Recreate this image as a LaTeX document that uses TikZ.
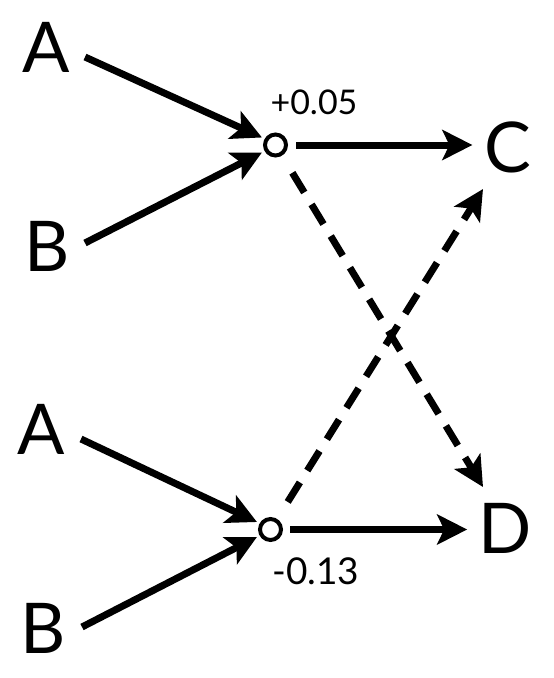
\documentclass[tikz,border=0pt]{standalone}
\usepackage{fontspec}
\setmainfont{Lato}
\usetikzlibrary{arrows.meta}

\begin{document}
\begin{tikzpicture}[x=1pt,y=-1pt,line join=miter,
    letter/.style={inner sep=0pt,font=\fontsize{70}{80}\selectfont},
    weight/.style={inner sep=0pt,font=\fontsize{#1}{40}\selectfont},
    junction/.style={circle,draw,line width=4pt,minimum size=21pt,inner sep=0pt,outer sep=5pt},
    arr/.style={line width=7pt,-{Stealth[length=30pt,width=30pt,inset=7pt]}},
    dasharr/.style={arr,dash pattern=on 23pt off 14pt,shorten <=17pt}]
  \useasboundingbox (0,0) rectangle (554,678);
  % upper unit
  \node[letter] (A1) at (46,47) {A};
  \node[letter] (B1) at (47,246) {B};
  \node[junction] (n1) at (275.5,145) {};
  \node[weight=34] (w1) at (314,102) {+0.05};
  \node[letter] (C) at (508,147) {C};
  % lower unit
  \node[letter] (A2) at (41,429) {A};
  \node[letter] (B2) at (43,628) {B};
  \node[junction] (n2) at (270.5,529.5) {};
  \node[weight=37] (w2) at (316,571) {-0.13};
  \node[letter] (D) at (505,528) {D};
  % inputs
  \draw[arr] ([shift={(39,10)}]A1.center) -- (n1.151);
  \draw[arr] ([shift={(38,-3)}]B1.center) -- (n1.209);
  \draw[arr] ([shift={(40,10)}]A2.center) -- (n2.151);
  \draw[arr] ([shift={(39,-1)}]B2.center) -- (n2.209);
  % outputs
  \draw[arr,shorten <=5pt,shorten >=12pt] (n1.east) -- (C.west |- n1.east);
  \draw[arr,shorten <=4pt,shorten >=11pt] (n2.east) -- (D.west |- n2.east);
  \draw[dasharr] (n1) -- ([shift={(-22,-41)}]D.center);
  \draw[dasharr] (n2) -- ([shift={(-25,42)}]C.center);
\end{tikzpicture}
\end{document}
